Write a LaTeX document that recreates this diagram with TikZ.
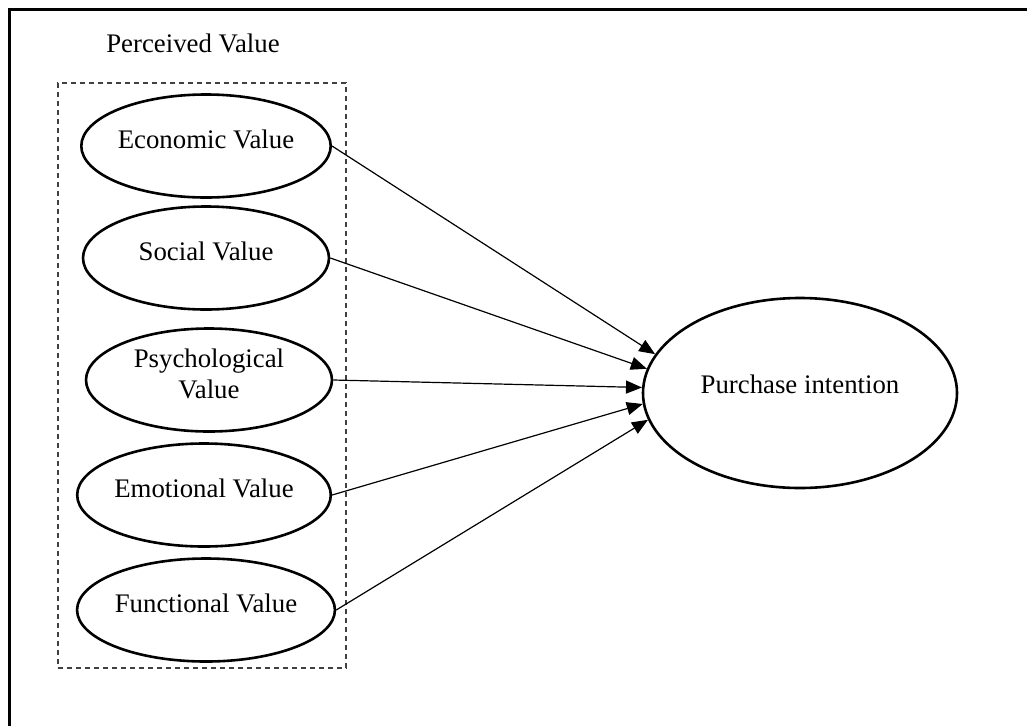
\documentclass[tikz,border=0pt]{standalone}
\usepackage{fontspec}
\setmainfont{Liberation Serif}
\usetikzlibrary{shapes.geometric,arrows.meta}
\begin{document}
\begin{tikzpicture}[x=1pt,y=-1pt,
  txt/.style={font=\fontsize{26.8}{31}\selectfont,align=center,inner sep=0pt},
  valuebox/.style={txt,ellipse,draw,line width=2.6pt,minimum width=246pt,minimum height=103pt,text depth=13pt},
  target/.style={txt,ellipse,draw,line width=2.6pt,minimum width=314pt,minimum height=190pt,text depth=17pt},
  group/.style={draw=black!75,line width=1.3pt,dash pattern=on 5pt off 4pt,inner sep=0pt},
  link/.style={line width=1.2pt,-{Triangle[length=16pt,width=13pt]}}]
\useasboundingbox (0,0) rectangle (1027,726);
% frame edges
\coordinate (fbl) at (9,726);
\coordinate (ftl) at (9,9);
\coordinate (ftr) at (1027,9);
\draw[line width=3pt] (fbl) -- (ftl) -- (ftr);

% grouping box and its title
\node[group,minimum width=288pt,minimum height=585pt] (pvbox) at (202,375.5) {};
\node[txt] (pvtitle) at (193,43) {Perceived Value};

% value constructs
\node[valuebox] (eco) at (206,146) {Economic Value};
\node[valuebox] (soc) at (206,258) {Social Value};
\node[valuebox] (psy) at (209,380) {Psychological\\Value};
\node[valuebox] (emo) at (204,495) {Emotional Value};
\node[valuebox] (fun) at (206,610) {Functional Value};

% outcome
\node[target] (pi) at (800,393) {Purchase intention};

% paths
\draw[link] (eco.east) -- (pi.165);
\draw[link] (soc.east) -- (pi.171);
\draw[link] (psy.east) -- (pi.178);
\draw[link] (emo.east) -- (pi.184);
\draw[link] (fun.east) -- (pi.190);
\end{tikzpicture}
\end{document}
